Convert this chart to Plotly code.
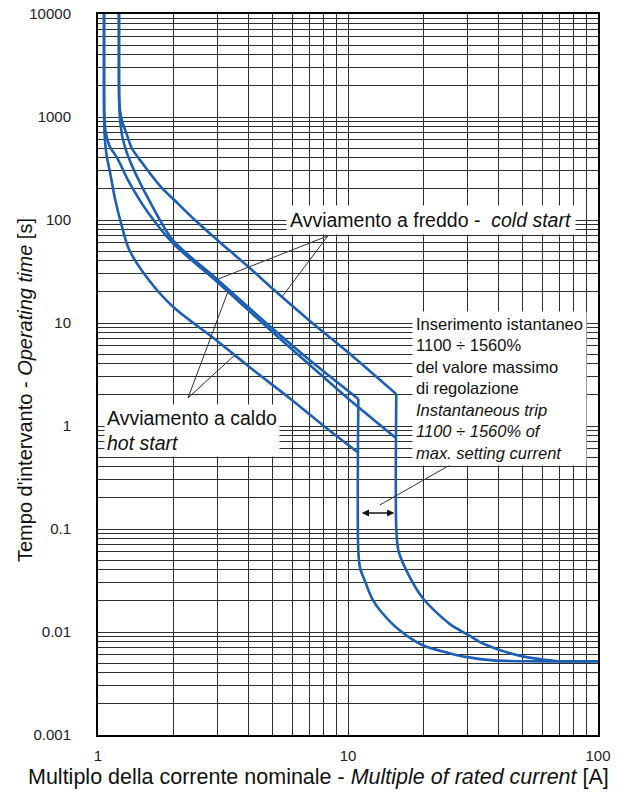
import math
import plotly.graph_objects as go

# ---------------- data ----------------
# Cold start – upper limit curve (ends at 15.6 x In)
cold_upper_x = [1.213, 1.213, 1.216, 1.225, 1.25, 1.3, 1.364, 1.5, 1.8, 2.0, 2.44, 3.0, 4.0, 5.0, 7.0, 10.0, 15.6]
cold_upper_y = [10000, 2500, 1500, 1150, 900, 690, 500, 360, 205, 160, 100, 64, 35, 21.5, 10.6, 5.2, 2.04]

# Cold start – lower limit curve (ends at 11 x In)
cold_lower_x = [1.213, 1.213, 1.216, 1.228, 1.25, 1.3, 1.406, 1.644, 2.0, 3.0, 4.87, 7.0, 11.0]
cold_lower_y = [10000, 2500, 1300, 900, 650, 460, 290, 138, 63, 26.5, 9.3, 4.4, 1.83]

# Hot start – upper limit curve (ends at 15.6 x In)
hot_upper_x = [1.057, 1.057, 1.06, 1.075, 1.11, 1.2, 1.318, 1.585, 2.0, 3.0, 4.87, 7.0, 10.0, 15.6]
hot_upper_y = [10000, 2500, 1000, 700, 530, 390, 244, 118, 59, 25, 8.6, 3.95, 1.85, 0.76]

# Hot start – lower limit curve (ends at 11 x In)
hot_lower_x = [1.057, 1.057, 1.058, 1.062, 1.07, 1.083, 1.117, 1.17, 1.244, 1.33, 1.6, 2.0, 3.0, 4.0, 5.86, 8.0, 11.0]
hot_lower_y = [10000, 2500, 1000, 700, 540, 420, 290, 160, 88, 52, 26, 14.3, 6.7, 3.8, 1.85, 1.0, 0.55]

# Instantaneous trip – 1100 % branch
trip_low_x = [11.0, 11.0, 11.2, 11.7, 12.5, 13.5, 16.0, 20.0, 25.0, 30.0, 38.0, 50.0, 100.0]
trip_low_y = [1.83, 0.06, 0.041, 0.031, 0.021, 0.016, 0.0105, 0.0074, 0.0063, 0.0057, 0.0053, 0.0052, 0.0052]

# Instantaneous trip – 1560 % branch
trip_high_x = [15.6, 15.6, 15.9, 17.0, 20.0, 25.5, 30.6, 34.0, 40.4, 50.0, 60.0, 70.0, 100.0]
trip_high_y = [2.04, 0.1, 0.062, 0.041, 0.021, 0.012, 0.0092, 0.0079, 0.0067, 0.0058, 0.0054, 0.0052, 0.0052]

# Leader lines (label anchor -> curve point)
cold_leader_x = [3.0, 8.3, 5.45]
cold_leader_y = [26.5, 70.0, 18.0]
hot_leader_x = [3.31, 2.29, 3.53]
hot_leader_y = [20.2, 1.87, 4.9]
trip_leader_x = [26.1, 13.4]
trip_leader_y = [0.43, 0.171]
trip_band_x = [11.0, 15.6]
trip_band_y = 0.143

# Tick labels
x_tickvals = [1, 10, 100]
x_ticktext = ["1", "10", "100"]
y_tickvals = [0.001, 0.01, 0.1, 1, 10, 100, 1000, 10000]
y_ticktext = ["0.001", "0.01", "0.1", "1", "10", "100", "1000", "10000"]

# ---------------- figure ----------------
BLUE = "#1d5fb3"
GRID = "#2e2e2e"
FONT = "Liberation Sans, Arial, sans-serif"

fig = go.Figure()

for xs, ys in [(cold_upper_x, cold_upper_y), (cold_lower_x, cold_lower_y),
               (hot_upper_x, hot_upper_y), (hot_lower_x, hot_lower_y),
               (trip_low_x, trip_low_y), (trip_high_x, trip_high_y)]:
    fig.add_trace(go.Scatter(x=xs, y=ys, mode="lines",
                             line=dict(color=BLUE, width=2.6, shape="spline", smoothing=0.8),
                             showlegend=False, hoverinfo="skip"))

for xs, ys in [(cold_leader_x, cold_leader_y), (hot_leader_x, hot_leader_y),
               (trip_leader_x, trip_leader_y)]:
    fig.add_trace(go.Scatter(x=xs, y=ys, mode="lines",
                             line=dict(color="#333333", width=1),
                             showlegend=False, hoverinfo="skip"))

lg = math.log10

def minor_vals(e0, e1):
    return [d * 10 ** e for e in range(e0, e1) for d in range(2, 10)]

# page pixel -> paper coordinates (plot area spans x 98..598, y 14..735)
def paper_x(px):
    return (px - 98) / 500.0

def paper_y(py):
    return (735 - py) / 721.0

fig.update_layout(
    width=624, height=792, autosize=False,
    margin=dict(l=98, r=26, t=14, b=57, autoexpand=False),
    paper_bgcolor="white", plot_bgcolor="white",
    font=dict(family=FONT, color="#1a1a1a"),
    showlegend=False,
    xaxis=dict(type="log", range=[0, 2], tickmode="array",
               tickvals=x_tickvals, ticktext=x_ticktext, automargin=False,
               showgrid=True, gridcolor=GRID, gridwidth=1,
               minor=dict(tickmode="array", tickvals=minor_vals(0, 2),
                          showgrid=True, gridcolor=GRID, gridwidth=1, ticks=""),
               showline=True, linecolor="black", linewidth=2, mirror=True,
               ticks="outside", ticklen=6, tickcolor="rgba(0,0,0,0)",
               ticklabeloverflow="allow",
               tickfont=dict(size=15, color="#222222"), zeroline=False),
    yaxis=dict(type="log", range=[-3, 4], tickmode="array",
               tickvals=y_tickvals, ticktext=y_ticktext, automargin=False,
               showgrid=True, gridcolor=GRID, gridwidth=1,
               minor=dict(tickmode="array", tickvals=minor_vals(-3, 4),
                          showgrid=True, gridcolor=GRID, gridwidth=1, ticks=""),
               showline=True, linecolor="black", linewidth=2, mirror=True,
               ticks="outside", ticklen=22, tickcolor="rgba(0,0,0,0)",
               ticklabeloverflow="allow",
               tickfont=dict(size=15, color="#222222"), zeroline=False),
)

annotations = [
    dict(text="Multiplo della corrente nominale - <i>Multiple of rated current</i> [A]",
         xref="paper", yref="paper", x=paper_x(318), y=paper_y(777),
         xanchor="center", yanchor="middle", showarrow=False,
         font=dict(size=21.5, color="#111111")),
    dict(text="Tempo d'intervanto - <i>Operating time</i> [s]",
         xref="paper", yref="paper", x=paper_x(25), y=paper_y(390),
         xanchor="center", yanchor="middle", textangle=-90, showarrow=False,
         font=dict(size=20, color="#111111")),
    dict(text="Avviamento a freddo -  <i>cold start</i>",
         xref="paper", yref="paper", x=paper_x(286), y=paper_y(220),
         xanchor="left", yanchor="middle", showarrow=False, bgcolor="white",
         borderpad=3, font=dict(size=19.5, color="#111111")),
    dict(text="Avviamento a caldo<br><i>hot start</i>",
         xref="paper", yref="paper", x=paper_x(104), y=paper_y(430),
         xanchor="left", yanchor="middle", align="left", showarrow=False,
         bgcolor="white", borderpad=2, font=dict(size=19.5, color="#111111")),
    dict(text=("Inserimento istantaneo<br>1100 ÷ 1560%<br>del valore massimo<br>"
               "di regolazione<br><i>Instantaneous trip</i><br><i>1100 ÷ 1560% of</i><br>"
               "<i>max. setting current</i>"),
         xref="paper", yref="paper", x=paper_x(412), y=paper_y(388),
         xanchor="left", yanchor="middle", align="left", showarrow=False,
         bgcolor="white", borderpad=3, font=dict(size=16.5, color="#111111")),
    dict(text="", x=lg(trip_band_x[1]), y=lg(trip_band_y), xref="x", yref="y",
         ax=lg(trip_band_x[0]), ay=lg(trip_band_y), axref="x", ayref="y",
         showarrow=True, arrowside="end+start", arrowhead=2, arrowsize=1.1,
         arrowwidth=1.3, arrowcolor="#111111", standoff=2, startstandoff=2),
]
fig.update_layout(annotations=annotations)

# remove the default 8 px page margin so the 624x792 figure fills the window exactly
fig.write_html("out.html", config={"displayModeBar": False},
               post_script="document.body.style.margin='0px';document.body.style.padding='0px';")
